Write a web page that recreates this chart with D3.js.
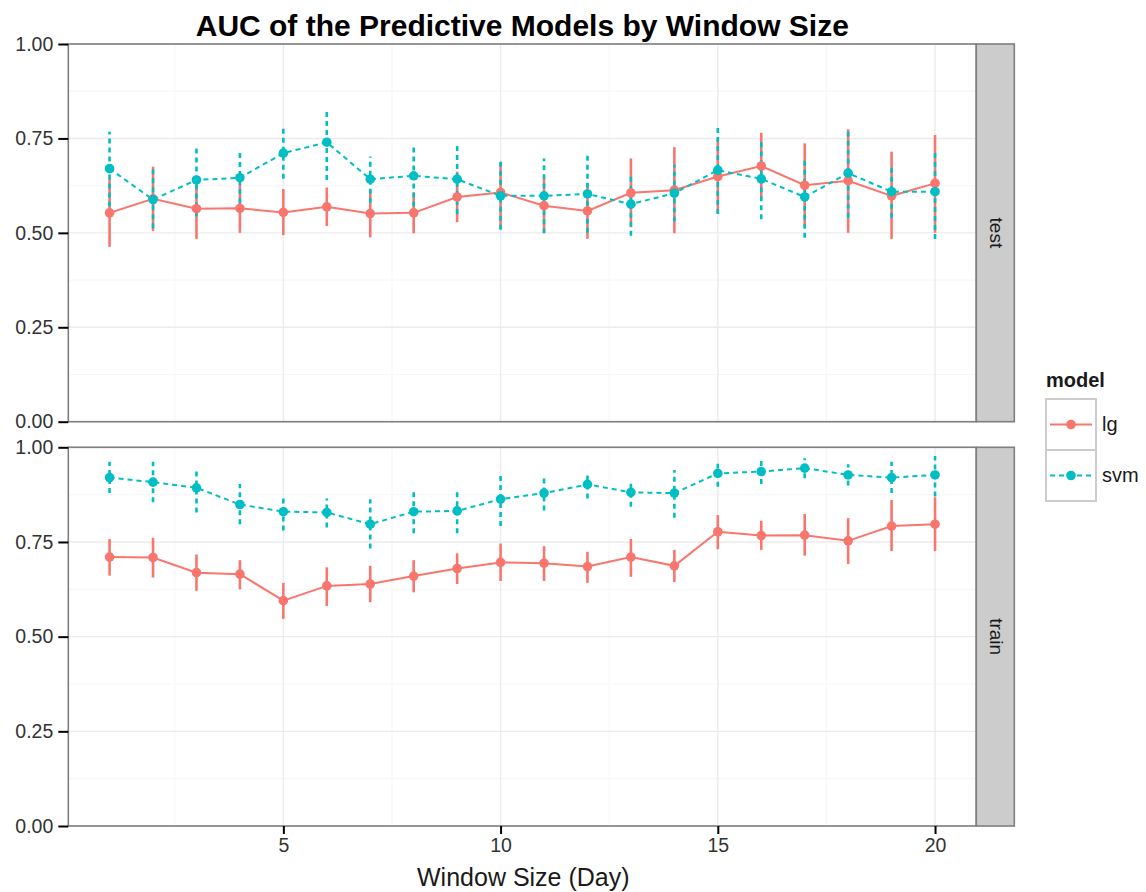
<!DOCTYPE html>
<html>
<head>
<meta charset="utf-8">
<script src="https://cdn.jsdelivr.net/npm/d3@7"></script>
<style>
  html, body { margin: 0; padding: 0; background: #fff; }
  svg { display: block; font-family: "Liberation Sans", Arial, sans-serif; }
</style>
</head>
<body>
<svg id="chart" width="1146" height="892"></svg>
<script>
// Window sizes (days)
const windowSizes = d3.range(1, 21);
const facets = ["test", "train"];
const models = ["lg", "svm"];
const yTicks = [0, 0.25, 0.5, 0.75, 1];
const xTicks = [5, 10, 15, 20];

// Mean AUC and error-bar bounds per window size
const testLgMean = [0.553,0.590,0.564,0.565,0.554,0.569,0.551,0.553,0.595,0.607,0.572,0.558,0.606,0.613,0.649,0.677,0.626,0.638,0.598,0.631];
const testLgLow  = [0.463,0.505,0.484,0.500,0.494,0.518,0.488,0.499,0.528,0.510,0.500,0.484,0.515,0.499,0.550,0.590,0.515,0.500,0.484,0.500];
const testLgHigh = [0.643,0.675,0.644,0.630,0.616,0.620,0.614,0.607,0.662,0.688,0.645,0.632,0.697,0.727,0.750,0.765,0.737,0.774,0.715,0.759];

const testSvmMean = [0.670,0.588,0.640,0.646,0.711,0.740,0.642,0.651,0.642,0.598,0.598,0.603,0.576,0.605,0.666,0.643,0.595,0.658,0.609,0.609];
const testSvmLow  = [0.570,0.512,0.543,0.579,0.643,0.640,0.580,0.570,0.550,0.508,0.499,0.500,0.492,0.530,0.550,0.536,0.487,0.540,0.540,0.484];
const testSvmHigh = [0.768,0.668,0.728,0.713,0.777,0.828,0.702,0.733,0.733,0.688,0.697,0.706,0.660,0.680,0.781,0.750,0.700,0.770,0.680,0.717];

const trainLgMean = [0.710,0.709,0.669,0.665,0.595,0.634,0.639,0.660,0.680,0.696,0.694,0.685,0.710,0.687,0.777,0.767,0.768,0.753,0.792,0.797];
const trainLgLow  = [0.661,0.656,0.621,0.625,0.547,0.581,0.591,0.617,0.639,0.647,0.647,0.642,0.658,0.644,0.731,0.729,0.714,0.692,0.726,0.726];
const trainLgHigh = [0.758,0.761,0.717,0.702,0.642,0.683,0.687,0.702,0.720,0.746,0.739,0.724,0.758,0.729,0.821,0.806,0.824,0.813,0.861,0.868];

const trainSvmMean = [0.920,0.908,0.893,0.849,0.830,0.828,0.797,0.830,0.832,0.863,0.879,0.902,0.881,0.879,0.931,0.936,0.945,0.927,0.920,0.927];
const trainSvmLow  = [0.879,0.855,0.828,0.797,0.780,0.788,0.733,0.773,0.773,0.792,0.833,0.865,0.843,0.814,0.896,0.903,0.918,0.899,0.879,0.870];
const trainSvmHigh = [0.962,0.962,0.944,0.903,0.870,0.865,0.863,0.883,0.883,0.929,0.918,0.929,0.909,0.940,0.962,0.966,0.971,0.955,0.962,0.977];

function rows(mean, low, high) {
  return windowSizes.map((w, i) => ({ w, mean: mean[i], low: low[i], high: high[i] }));
}
const series = {
  test:  { lg: rows(testLgMean, testLgLow, testLgHigh),   svm: rows(testSvmMean, testSvmLow, testSvmHigh) },
  train: { lg: rows(trainLgMean, trainLgLow, trainLgHigh), svm: rows(trainSvmMean, trainSvmLow, trainSvmHigh) }
};

const color = d3.scaleOrdinal().domain(models).range(["#F8766D", "#00BFC4"]);
const dash = { lg: null, svm: "5,4" };

const svg = d3.select("#chart");
const left = 68.3, right = 976.3;
const panels = { test: [44, 421.7], train: [447.3, 826] };
const stripW = 38;

const x = d3.scaleLinear().domain([0.05, 20.95]).range([left, right]);
const xMinor = [2.5, 7.5, 12.5, 17.5];
const yMinor = [0.125, 0.375, 0.625, 0.875];

facets.forEach(f => {
  const [top, bottom] = panels[f];
  const y = d3.scaleLinear().domain([0, 1]).range([bottom, top]);
  const g = svg.append("g");

  g.append("rect").attr("x", left).attr("y", top).attr("width", right - left).attr("height", bottom - top).attr("fill", "#fff");

  // grid
  g.selectAll(".gxm").data(xMinor).join("line")
    .attr("x1", d => x(d)).attr("x2", d => x(d)).attr("y1", top).attr("y2", bottom)
    .attr("stroke", "#F7F7F7").attr("stroke-width", 1.2);
  g.selectAll(".gym").data(yMinor).join("line")
    .attr("x1", left).attr("x2", right).attr("y1", d => y(d)).attr("y2", d => y(d))
    .attr("stroke", "#F7F7F7").attr("stroke-width", 1.2);
  g.selectAll(".gx").data(xTicks).join("line")
    .attr("x1", d => x(d)).attr("x2", d => x(d)).attr("y1", top).attr("y2", bottom)
    .attr("stroke", "#EBEBEB").attr("stroke-width", 1.4);
  g.selectAll(".gy").data(yTicks).join("line")
    .attr("x1", left).attr("x2", right).attr("y1", d => y(d)).attr("y2", d => y(d))
    .attr("stroke", "#EBEBEB").attr("stroke-width", 1.4);

  const line = d3.line().x(d => x(d.w)).y(d => y(d.mean));

  models.forEach(m => {
    g.append("path").datum(series[f][m])
      .attr("d", line).attr("fill", "none")
      .attr("stroke", color(m)).attr("stroke-width", 2)
      .attr("stroke-dasharray", dash[m]);
  });
  models.forEach(m => {
    g.selectAll(null).data(series[f][m]).join("line")
      .attr("x1", d => x(d.w)).attr("x2", d => x(d.w))
      .attr("y1", d => y(d.low)).attr("y2", d => y(d.high))
      .attr("stroke", color(m)).attr("stroke-width", 2.6)
      .attr("stroke-dasharray", dash[m]);
  });
  models.forEach(m => {
    g.selectAll(null).data(series[f][m]).join("circle")
      .attr("cx", d => x(d.w)).attr("cy", d => y(d.mean)).attr("r", 4.8)
      .attr("fill", color(m));
  });

  // panel border
  g.append("rect").attr("x", left).attr("y", top).attr("width", right - left).attr("height", bottom - top)
    .attr("fill", "none").attr("stroke", "#7F7F7F").attr("stroke-width", 1.6);

  // strip
  g.append("rect").attr("x", right).attr("y", top).attr("width", stripW).attr("height", bottom - top)
    .attr("fill", "#CCCCCC").attr("stroke", "#7F7F7F").attr("stroke-width", 1.6);
  g.append("text")
    .attr("transform", `translate(${right + stripW / 2 - 5},${(top + bottom) / 2}) rotate(90)`)
    .attr("text-anchor", "middle").attr("font-size", 19).attr("fill", "#1a1a1a")
    .text(f);

  // y axis
  const yAxis = g.append("g").attr("transform", `translate(${left},0)`)
    .call(d3.axisLeft(y).tickValues(yTicks).tickFormat(d3.format(".2f")).tickSize(10).tickPadding(5));
  yAxis.select(".domain").remove();
  yAxis.selectAll(".tick line").attr("stroke", "#000").attr("stroke-width", 2);
  yAxis.selectAll(".tick text").attr("font-size", 19.5).attr("fill", "#333")
    .attr("font-family", "'Liberation Sans', Arial, sans-serif");

  if (f === "train") {
    const xAxis = g.append("g").attr("transform", `translate(0,${bottom})`)
      .call(d3.axisBottom(x).tickValues(xTicks).tickSize(8).tickPadding(4));
    xAxis.select(".domain").remove();
    xAxis.selectAll(".tick line").attr("stroke", "#000").attr("stroke-width", 2);
    xAxis.selectAll(".tick text").attr("font-size", 19.5).attr("fill", "#333")
      .attr("font-family", "'Liberation Sans', Arial, sans-serif");
  }
});

// title
svg.append("text").attr("x", (left + right) / 2).attr("y", 36)
  .attr("text-anchor", "middle").attr("font-size", 30).attr("font-weight", "bold").attr("fill", "#000")
  .text("AUC of the Predictive Models by Window Size");

// x axis title
svg.append("text").attr("x", (left + right) / 2 + 1).attr("y", 886)
  .attr("text-anchor", "middle").attr("font-size", 25).attr("fill", "#1a1a1a")
  .text("Window Size (Day)");

// legend
const lg = svg.append("g").attr("transform", "translate(1046,0)");
lg.append("text").attr("x", 0).attr("y", 387).attr("font-size", 20).attr("font-weight", "bold").attr("fill", "#1a1a1a").text("model");
models.forEach((m, i) => {
  const ky = 399 + i * 51;
  lg.append("rect").attr("x", 0).attr("y", ky).attr("width", 50).attr("height", 51)
    .attr("fill", "#fff").attr("stroke", "#CCCCCC").attr("stroke-width", 2);
  lg.append("line").attr("x1", 4).attr("x2", 46).attr("y1", ky + 25.5).attr("y2", ky + 25.5)
    .attr("stroke", color(m)).attr("stroke-width", 2).attr("stroke-dasharray", dash[m]);
  lg.append("circle").attr("cx", 25).attr("cy", ky + 25.5).attr("r", 4.8).attr("fill", color(m));
  lg.append("text").attr("x", 56).attr("y", ky + 32).attr("font-size", 20).attr("fill", "#1a1a1a").text(m);
});
</script>
</body>
</html>
